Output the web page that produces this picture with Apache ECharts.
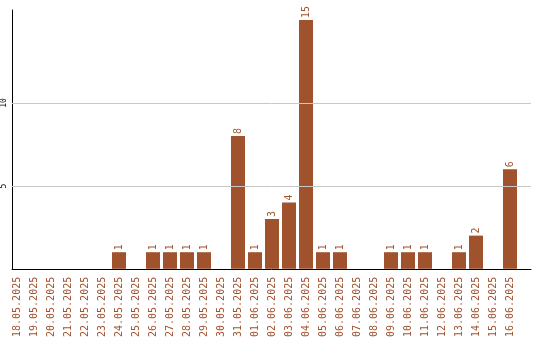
<!DOCTYPE html>
<html><head><meta charset="utf-8">
<script src="https://cdn.jsdelivr.net/npm/echarts@6/dist/echarts.min.js"></script>
<style>html,body{margin:0;padding:0;background:#fff}#c{width:540px;height:340px}</style>
</head><body><div id="c"></div>
<script>
var categories = ["18.05.2025","19.05.2025","20.05.2025","21.05.2025","22.05.2025","23.05.2025","24.05.2025","25.05.2025","26.05.2025","27.05.2025","28.05.2025","29.05.2025","30.05.2025","31.05.2025","01.06.2025","02.06.2025","03.06.2025","04.06.2025","05.06.2025","06.06.2025","07.06.2025","08.06.2025","09.06.2025","10.06.2025","11.06.2025","12.06.2025","13.06.2025","14.06.2025","15.06.2025","16.06.2025"];
var values = [0,0,0,0,0,0,1,0,1,1,1,1,0,8,1,3,4,15,1,1,0,0,1,1,1,0,1,2,0,6];
var yTicks = [5,10];
var YMAX = 15.6;
var brown = '#A0522D';
var chart = echarts.init(document.getElementById('c'));
chart.setOption({
  animation:false,
  grid:[
    {left:8.5, width:510, top:10, bottom:71},
    {left:11, width:520, top:10, bottom:71}
  ],
  xAxis:[
    {type:'category', gridIndex:0, data:categories, boundaryGap:true,
     axisLine:{show:false}, axisTick:{show:false},
     axisLabel:{interval:0, rotate:90, color:brown, fontFamily:'DejaVu Sans Mono', fontSize:10, margin:8}},
    {type:'value', gridIndex:1, min:0, max:1, axisLine:{show:true, onZero:false, lineStyle:{color:'#000', width:1}},
     axisTick:{show:false}, axisLabel:{show:false}, splitLine:{show:false}}
  ],
  yAxis:[
    {type:'value', gridIndex:0, min:0, max:YMAX, show:false, splitLine:{show:false}},
    {type:'value', gridIndex:1, min:0, max:YMAX, interval:5,
     axisLine:{show:true, lineStyle:{color:'#000', width:1}}, axisTick:{show:false},
     axisLabel:{rotate:90, color:'#000', fontFamily:'DejaVu Sans Mono', fontSize:8, margin:4,
       formatter:function(v){return yTicks.indexOf(v)>=0 ? String(v) : '';}},
     splitLine:{show:false}}
  ],
  series:[
    {type:'bar', xAxisIndex:0, yAxisIndex:0, data:values, barWidth:14,
     itemStyle:{color:brown},
     label:{show:true, position:'top', rotate:90, align:'left', verticalAlign:'middle', distance:2,
       color:brown, fontFamily:'DejaVu Sans Mono', fontSize:10,
       formatter:function(p){return p.value ? String(p.value) : '';}},
     z:3},
    {type:'line', xAxisIndex:1, yAxisIndex:1, data:[], silent:true,
     markLine:{silent:true, symbol:'none', label:{show:false},
       lineStyle:{color:'#c8c8c8', type:'solid', width:1},
       data:yTicks.map(function(t){return {yAxis:t};})}, z:1}
  ]
});
</script></body></html>
